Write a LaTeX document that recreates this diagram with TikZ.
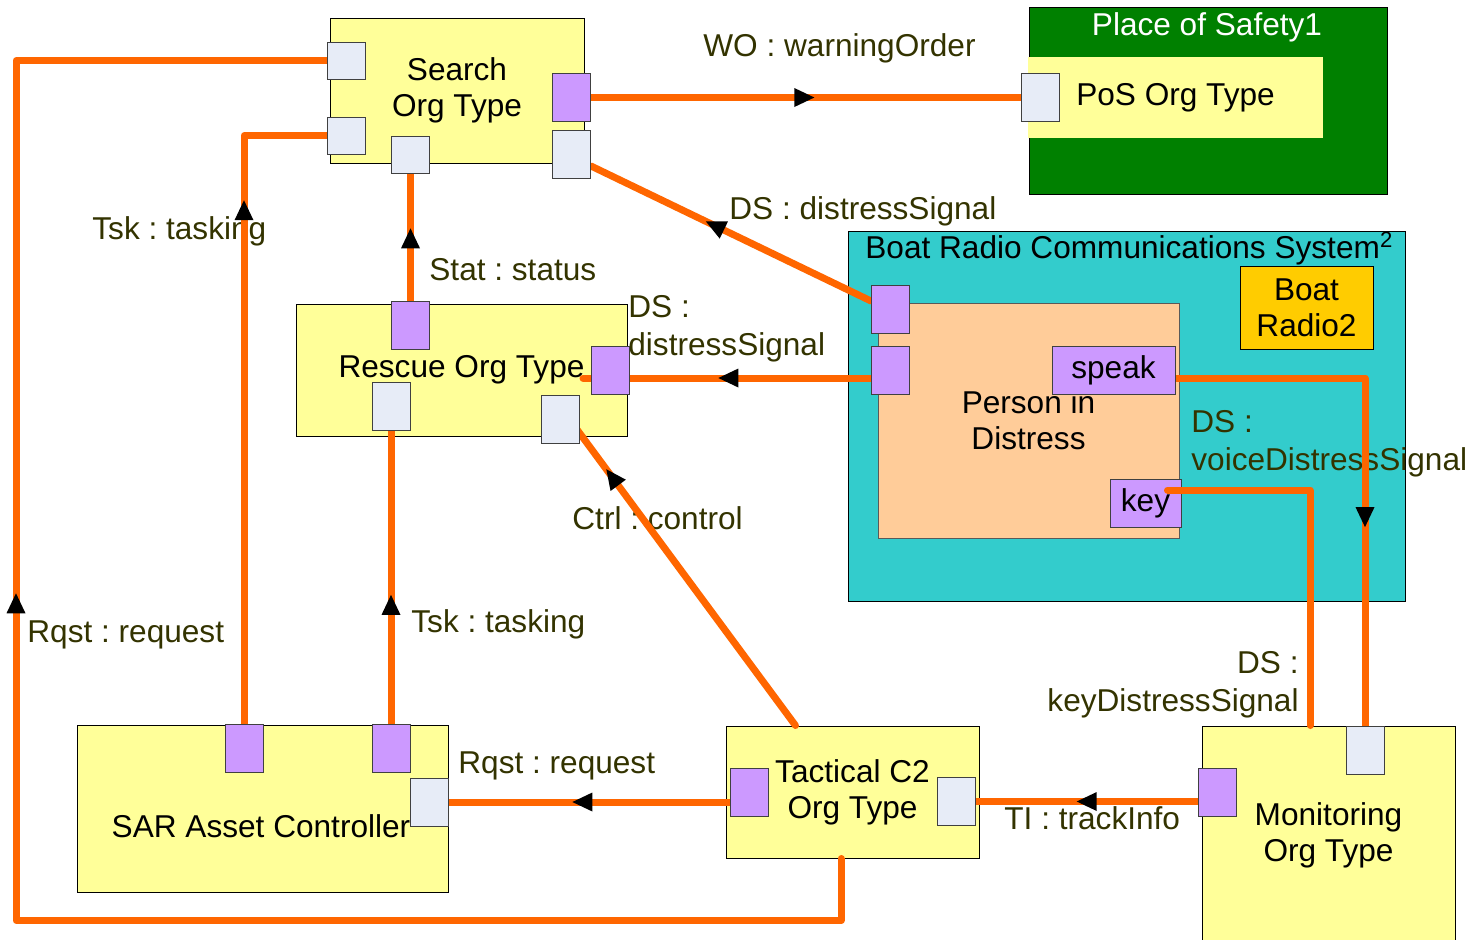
\documentclass[tikz,border=0pt]{standalone}
\usepackage{fontspec}
\setmainfont{Liberation Sans}
\usepackage{tikz}
\usetikzlibrary{arrows.meta,decorations.markings}

\definecolor{partyellow}{RGB}{255,255,153}
\definecolor{portpurple}{RGB}{204,153,255}
\definecolor{portgrey}{RGB}{231,236,247}
\definecolor{wireorange}{RGB}{255,102,0}
\definecolor{radioteal}{RGB}{51,204,204}
\definecolor{personpeach}{RGB}{255,204,153}
\definecolor{radiogold}{RGB}{255,204,0}
\definecolor{safegreen}{RGB}{0,128,0}
\definecolor{labelolive}{RGB}{51,51,0}

\newcommand{\diafont}{\fontsize{15.8}{18}\selectfont}
\newcommand{\lblfont}{\fontsize{15.8}{19}\selectfont}
\frenchspacing

\pgfdeclarelayer{back}
\pgfdeclarelayer{wires}
\pgfsetlayers{back,wires,main}

\begin{document}
\begin{tikzpicture}[x=0.5pt,y=-0.5pt,
    group/.style={draw=black,line width=0.5pt,inner sep=0pt},
    part/.style={draw=black,line width=0.5pt,fill=partyellow,align=center,font=\diafont,inner sep=0pt},
    port/.style={draw=black!75,line width=0.5pt,inner sep=0pt,minimum width=19pt,minimum height=24pt,font=\diafont},
    inport/.style={port,fill=portgrey},
    outport/.style={port,fill=portpurple},
    flow/.style={draw=wireorange,line width=3.5pt,line cap=round,line join=round},
    midarrow/.style={postaction={decorate,decoration={markings,
      mark=at position #1 with {\arrow{Triangle[length=10pt,width=9.5pt,black,line width=0pt]}}}}},
    lbl/.style={font=\lblfont,text=labelolive,inner sep=0pt,align=left}]
  \useasboundingbox (0,0) rectangle (1468,939);

  \begin{pgfonlayer}{back}
    % Place of Safety
    \node[group,fill=safegreen,minimum width=179pt,minimum height=93.5pt] (safety) at (1208,100.5) {};
    \node[lbl,text=white,anchor=base] (safetytitle) at (1207,35) {Place of Safety1};
    \node[part,draw=none,minimum width=147.5pt,minimum height=40.5pt] (pos) at (1175.5,97.5) {PoS Org Type};
    % boat radio
    \node[group,fill=radioteal,minimum width=278.5pt,minimum height=185pt] (radio) at (1126.5,416) {};
    \node[lbl,text=black,anchor=base west] (radiotitle) at (865,258) {Boat Radio Communications System\textsuperscript{2}};
    \node[part,fill=radiogold,minimum width=66.5pt,minimum height=41.5pt] (boatradio) at (1306.5,307.5) {Boat\\Radio2};
    \node[part,draw=black!65,fill=personpeach,minimum width=150.5pt,minimum height=117.5pt] (person) at (1028.5,420.5) {Person in\\Distress};
    % org types
    \node[part,minimum width=127pt,minimum height=72.5pt] (search) at (457,90.5) {Search\\Org Type};
    \node[part,minimum width=165.5pt,minimum height=66pt] (rescue) at (461.5,370) {Rescue Org Type};
    \node[part,minimum width=185.5pt,minimum height=83.5pt] (sar) at (262.5,808.5) {};
    \node[font=\diafont,inner sep=0pt,anchor=base] (sartext) at (261,837) {SAR Asset Controller};
    \node[part,minimum width=126.5pt,minimum height=66pt] (tactical) at (852.5,792) {Tactical C2\\Org Type};
    \node[part,minimum width=126.5pt,minimum height=109.5pt] (monitor) at (1328.5,835.5) {Monitoring\\Org Type};
    % flow labels
    \node[lbl,anchor=base west] (wolbl) at (703,56) {WO : warningOrder};
    \node[lbl,anchor=base west] (dslbl) at (729,219) {DS : distressSignal};
    \node[lbl,anchor=base west] (statlbl) at (429,280) {Stat : status};
    \node[lbl,anchor=base west] (dsrlbl) at (628,355) {DS :\\distressSignal};
    \node[lbl,anchor=base west] (ctrllbl) at (572,529) {Ctrl : control};
    \node[lbl,anchor=base west] (tsklbl) at (92,239) {Tsk : tasking};
    \node[lbl,anchor=base west] (tskrlbl) at (411,632) {Tsk : tasking};
    \node[lbl,anchor=base west] (rqstlbl) at (27,642) {Rqst : request};
    \node[lbl,anchor=base west] (rqstmlbl) at (458,773) {Rqst : request};
    \node[lbl,anchor=base west] (tilbl) at (1004,829) {TI : trackInfo};
    \node[lbl,anchor=base west] (voicelbl) at (1191,470) {DS :\\voiceDistressSignal};
    \node[lbl,anchor=base east,align=right] (keylbl) at (1299,711) {DS :\\keyDistressSignal};
  \end{pgfonlayer}

  % ports
  \node[inport,minimum height=18.5pt] (searchinA) at (346.5,60.5) {};
  \node[inport,minimum height=18.5pt] (searchinB) at (346.5,135.5) {};
  \node[inport,minimum height=18.5pt] (searchstat) at (410,154.5) {};
  \node[outport] (searchwo) at (571.5,97.5) {};
  \node[inport] (searchds) at (571.5,154) {};
  \node[inport] (posin) at (1040,97.5) {};
  \node[outport] (personA) at (890.5,309) {};
  \node[outport] (personB) at (890.5,370) {};
  \node[outport,minimum width=61.5pt] (speak) at (1113.5,370) {speak};
  \node[outport,minimum width=35.5pt] (key) at (1145.5,503) {key};
  \node[outport] (rescuestat) at (410.5,325.5) {};
  \node[inport] (rescuetsk) at (391.5,406) {};
  \node[outport] (rescueds) at (610,370) {};
  \node[inport] (rescuectrl) at (560.5,419.5) {};
  \node[outport] (sartskA) at (244,748.5) {};
  \node[outport] (sartskB) at (391,748.5) {};
  \node[inport] (sarrqst) at (429,802) {};
  \node[outport] (tacrqst) at (749.5,792.5) {};
  \node[inport] (tactrack) at (956,801.5) {};
  \node[outport] (montrack) at (1217.5,792.5) {};
  \node[inport] (monds) at (1365,750.5) {};

  \begin{pgfonlayer}{wires}
    \draw[flow,midarrow=0.52] (searchwo.east) -- (posin.west);
    \draw[flow,midarrow=0.59] ([shift={(0,-8)}]personA.west) -- ([shift={(0,12)}]searchds.east);
    \draw[flow,midarrow=0.57] (rescuestat.north) -- (rescuestat.north |- searchstat.south);
    \draw[flow,midarrow=0.53] ([shift={(0,8)}]personB.west) -- ([shift={(-27,8)}]rescueds.center);
    \draw[flow,midarrow=0.86] ([shift={(-57,0)}]tactical.north) -- ([shift={(15,8)}]rescuectrl.center);
    \draw[flow,midarrow=0.78] (sartskA.north) |- (searchinB.west);
    \draw[flow,midarrow=0.44] (sartskB.north) -- (sartskB.north |- rescuetsk.south);
    \draw[flow,midarrow=0.56] (tacrqst.west |- sarrqst.east) -- (sarrqst.east);
    \draw[flow,midarrow=0.59] ([shift={(-11.5,0)}]tactical.south) -- ++(0,62) -| ([shift={(-311,0)}]searchinA.west) -- (searchinA.west);
    \draw[flow,midarrow=0.545] (montrack.west |- tactrack.east) -- (tactrack.east);
    \draw[flow,midarrow=0.63] ([shift={(0,8)}]speak.east) -| (monds.north);
  \end{pgfonlayer}
  \draw[flow] ([shift={(22,-13)}]key.center) -| ([shift={(-18.5,0)}]monitor.north);
\end{tikzpicture}
\end{document}
